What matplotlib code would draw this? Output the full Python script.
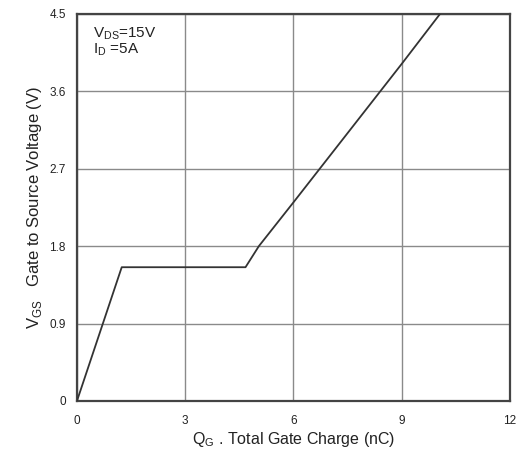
import matplotlib
matplotlib.use("Agg")
import matplotlib.pyplot as plt

plt.rcParams['font.family'] = ['Liberation Sans', 'DejaVu Sans']

# Gate charge curve (nC, V)
qg = [0, 1.24, 4.67, 5.04, 6.0, 9.0, 10.06]
vgs = [0, 1.555, 1.555, 1.8, 2.31, 3.92, 4.5]

xticks = [0, 3, 6, 9, 12]
yticks = [0, 0.9, 1.8, 2.7, 3.6, 4.5]

fig = plt.figure(figsize=(5.18, 4.5), dpi=100)
ax = fig.add_axes([0.1486, 0.109, 0.836, 0.86])

ax.plot(qg, vgs, color='#333333', linewidth=1.3, zorder=3)

ax.set_xlim(0, 12)
ax.set_ylim(0, 4.5)
ax.set_xticks(xticks)
ax.set_yticks(yticks)
ax.set_xticklabels([str(t) for t in xticks])
ax.set_yticklabels(['0', '0.9', '1.8', '2.7', '3.6', '4.5'])
ax.tick_params(length=0, labelsize=8.5, colors='#222222')
ax.tick_params(axis='x', pad=10)
ax.tick_params(axis='y', pad=8)
ax.grid(True, color='#8a8a8a', linewidth=1.0)

for s in ax.spines.values():
    s.set_color('#444444')
    s.set_linewidth(1.6)

ax.set_xlabel(r'Q$_{\mathregular{G}}$ . Total Gate Charge (nC)', fontsize=11.5, color='#222222', labelpad=2)
ax.set_ylabel(r'V$_{\mathregular{GS}}$   Gate to Source Voltage (V)', fontsize=12, color='#222222', labelpad=4)

ax.text(0.45, 4.37, 'V$_{\\mathregular{DS}}$=15V\nI$_{\\mathregular{D}}$ =5A', fontsize=11,
        color='#222222', va='top', ha='left', linespacing=0.95)

fig.savefig('out.png', dpi=100)
